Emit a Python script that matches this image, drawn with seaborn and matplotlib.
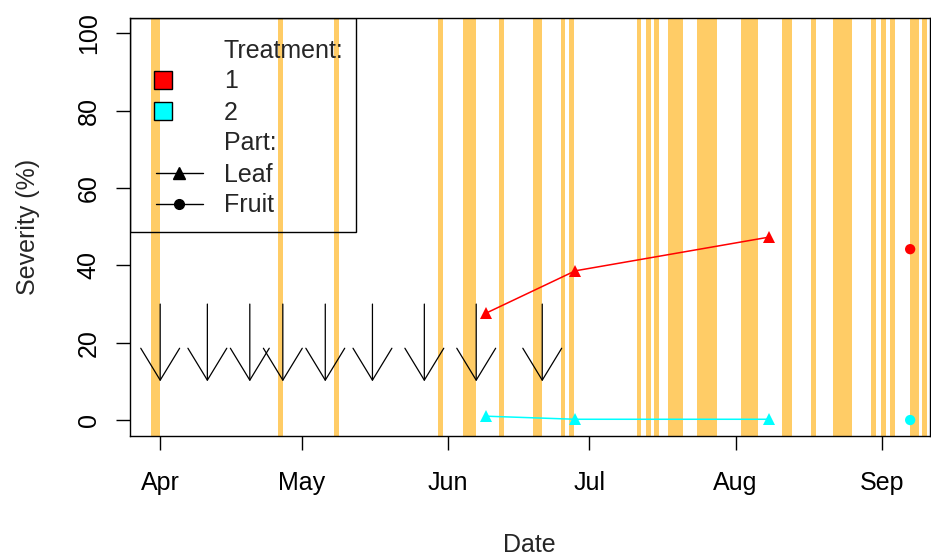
import matplotlib
matplotlib.use("Agg")
import matplotlib.pyplot as plt
import matplotlib.dates as mdates
import numpy as np
import pandas as pd
import seaborn as sns
from matplotlib.lines import Line2D
from matplotlib.legend_handler import HandlerBase
from matplotlib.patches import Rectangle

# ---------------- data ----------------
season_start = "2021-04-01"
# rain periods: start (days after 1 April) and duration (days)
rain_start_day = [-2.0, 25.0, 36.9, 59.0, 64.1, 71.9, 79.0, 85.0, 86.75, 101.0,
                  103.0, 104.7, 107.7, 113.9, 123.1, 131.9, 138.0, 142.7, 150.8,
                  152.8, 154.8, 158.9, 161.6]
rain_days = [2.05, 1.1, 1.1, 1.05, 2.75, 1.0, 2.0, 0.8, 1.0, 0.9,
             1.0, 1.05, 3.05, 4.1, 3.65, 2.0, 1.0, 3.95, 1.0,
             1.05, 1.05, 1.95, 1.0]
# fungicide sprays
spray_dates = ["2021-04-01", "2021-04-11", "2021-04-20", "2021-04-27", "2021-05-06",
               "2021-05-16", "2021-05-27", "2021-06-07", "2021-06-21"]
spray_from = 30
spray_to = 10
# severity assessments
leaf_dates = ["2021-06-09", "2021-06-28", "2021-08-08"]
leaf_t1 = [27.6, 38.6, 47.3]
leaf_t2 = [1.0, 0.2, 0.2]
fruit_dates = ["2021-09-07"]
fruit_t1 = [44.2]
fruit_t2 = [0.0]
treatments = ["1", "2"]
treat_colors = ["#FF0000", "#00FFFF"]
yticks = [0, 20, 40, 60, 80, 100]

# ---------------- style ----------------
sns.set_style("ticks")
plt.rcParams["font.family"] = ["Liberation Sans", "DejaVu Sans"]
FS = 18

fig = plt.figure(figsize=(9.31, 5.56), dpi=100)
ax = fig.add_axes([130 / 931, 1 - 435.5 / 556, 799.5 / 931, 417.5 / 556])

base = pd.Timestamp(season_start)

# rain bands
for s, w in zip(rain_start_day, rain_days):
    x0 = mdates.date2num(base + pd.Timedelta(days=s))
    ax.axvspan(x0, x0 + w, color="#FFCC66", lw=0, zorder=0)

# severity data
leaf = pd.DataFrame({
    "Date": pd.to_datetime(leaf_dates * 2),
    "Severity": leaf_t1 + leaf_t2,
    "Treatment": [treatments[0]] * len(leaf_dates) + [treatments[1]] * len(leaf_dates),
})
fruit = pd.DataFrame({
    "Date": pd.to_datetime(fruit_dates * 2),
    "Severity": fruit_t1 + fruit_t2,
    "Treatment": [treatments[0]] * len(fruit_dates) + [treatments[1]] * len(fruit_dates),
})
pal = dict(zip(treatments, treat_colors))
sns.lineplot(data=leaf, x="Date", y="Severity", hue="Treatment", palette=pal,
             marker="^", markersize=9, markeredgewidth=0, lw=1.1, ax=ax,
             legend=False, zorder=4)
sns.scatterplot(data=fruit, x="Date", y="Severity", hue="Treatment", palette=pal,
                marker="o", s=55, linewidth=0, ax=ax, legend=False, zorder=4)

# spray arrows
for d in spray_dates:
    xd = mdates.date2num(pd.Timestamp(d))
    ax.annotate("", xy=(xd, spray_to), xytext=(xd, spray_from),
                arrowprops=dict(arrowstyle="->,head_length=2.3,head_width=1.4",
                                color="black", lw=0.9, shrinkA=0, shrinkB=0,
                                mutation_scale=10),
                zorder=3)

# axes
ax.set_xlim(mdates.date2num(base - pd.Timedelta(days=6.4)),
            mdates.date2num(base + pd.Timedelta(days=163.1)))
ax.set_ylim(-4, 104)
ax.xaxis.set_major_locator(mdates.MonthLocator())
ax.xaxis.set_major_formatter(mdates.DateFormatter("%b"))
ax.set_yticks(yticks)
ax.set_yticklabels([str(v) for v in yticks], rotation=90, va="center")
ax.tick_params(axis="both", length=10, width=1, color="black",
               labelsize=FS, labelcolor="black", pad=11)
ax.tick_params(axis="x", pad=15.5)
for sp in ax.spines.values():
    sp.set_visible(True)
    sp.set_color("black")
    sp.set_linewidth(1)
ax.set_xlabel("Date", fontsize=FS, labelpad=27.5)
ax.set_ylabel("Severity (%)", fontsize=FS, labelpad=26.5)
ax.grid(False)


# ---------------- legend ----------------
class SquareHandler(HandlerBase):
    def create_artists(self, legend, orig_handle, xdescent, ydescent, width,
                       height, fontsize, trans):
        side = 13.0
        r = Rectangle((-xdescent + 2.6, -ydescent + height / 2 - side / 2), side, side,
                      facecolor=orig_handle.get_facecolor(), edgecolor="black",
                      lw=1, transform=trans)
        return [r]


class LineMarkerHandler(HandlerBase):
    def create_artists(self, legend, orig_handle, xdescent, ydescent, width,
                       height, fontsize, trans):
        y = -ydescent + height / 2
        x0, x1, xm = -xdescent + 4.0, -xdescent + 37.8, -xdescent + 20.8
        ln = Line2D([x0, x1], [y, y], color="black", lw=1, transform=trans)
        mk = Line2D([xm], [y], color="black", linestyle="none",
                    marker=orig_handle.get_marker(),
                    markersize=orig_handle.get_markersize(), transform=trans)
        return [ln, mk]


blank = Line2D([], [], linestyle="none")
sq1 = Rectangle((0, 0), 1, 1, facecolor=treat_colors[0])
sq2 = Rectangle((0, 0), 1, 1, facecolor=treat_colors[1])
leaf_h = Line2D([], [], color="black", lw=1, marker="^", markersize=8)
fruit_h = Line2D([], [], color="black", lw=1, marker="o", markersize=7)
handles = [blank, sq1, sq2, blank, leaf_h, fruit_h]
labels = ["Treatment:", treatments[0], treatments[1], "Part:", "Leaf", "Fruit"]
lm = LineMarkerHandler()
BP = 0.82
leg = ax.legend(handles, labels, loc="upper left", bbox_to_anchor=(0, 1),
                borderaxespad=0, fontsize=FS, frameon=False,
                handlelength=2.54, handletextpad=0.4, labelspacing=0.28,
                borderpad=BP,
                handler_map={Rectangle: SquareHandler(), leaf_h: lm, fruit_h: lm})
leg.set_zorder(5)

# legend frame: tighter on the right side and bottom
fig.canvas.draw()
bb = leg.get_window_extent()
pad_px = BP * FS * fig.dpi / 72
inv = ax.transAxes.inverted()
(ax0, ay0) = inv.transform((bb.x0, bb.y0 + 6))
(ax1, ay1) = inv.transform((bb.x1 - pad_px + 12, bb.y1))
frame = Rectangle((ax0, ay0), ax1 - ax0, ay1 - ay0, transform=ax.transAxes,
                  facecolor="none", edgecolor="black", lw=1, zorder=5)
ax.add_patch(frame)

fig.savefig("out.png", dpi=100)
